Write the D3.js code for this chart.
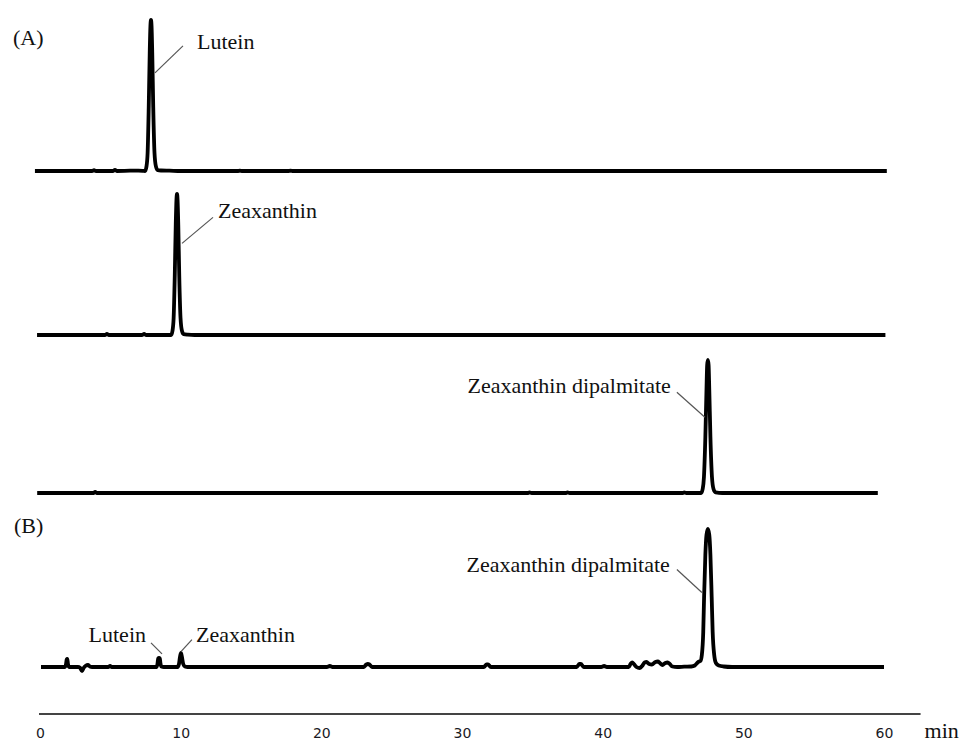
<!DOCTYPE html>
<html>
<head>
<meta charset="utf-8">
<script src="https://cdn.jsdelivr.net/npm/d3@7"></script>
<style>
  html, body { margin: 0; padding: 0; background: #fff; }
  svg { display: block; }
  .lbl { font-family: "Liberation Serif", "Times New Roman", serif; font-size: 22px; fill: #111; }
  .tick text { font-family: "DejaVu Sans", Verdana, sans-serif; font-size: 14px; fill: #1a1a24; }
</style>
</head>
<body>
<svg id="chart" width="960" height="742"></svg>
<script>
// Retention time (min) vs. detector signal (mAU) for each chromatogram.
const luteinStandard = [
  [-0.36, 0], [3.70, 0], [3.84, 0.8], [3.98, 0], [5.20, 0], [5.33, 1.2], [5.46, 0],
  [6.40, 0.3], [7.00, 0.4], [7.30, 0.2], [7.47, 0], [7.57, 4.6], [7.65, 18], [7.73, 64],
  [7.80, 118], [7.85, 145], [7.89, 151], [7.93, 145], [7.98, 118], [8.05, 64], [8.14, 18],
  [8.24, 4.6], [8.37, 0.8], [8.60, 0.5], [9.20, 0.3], [10.0, 0], [14.1, 0], [14.2, 0.4],
  [14.4, 0], [17.7, 0], [17.8, 0.4], [18.0, 0], [60.2, 0]
];
const zeaxanthinStandard = [
  [-0.21, 0], [4.62, 0], [4.76, 1], [4.90, 0], [7.25, 0], [7.40, 1], [7.55, 0], [9.32, 0],
  [9.42, 4.3], [9.50, 17], [9.58, 59], [9.65, 110], [9.70, 135], [9.74, 141], [9.78, 135],
  [9.83, 110], [9.90, 59], [9.99, 17], [10.09, 4.3], [10.22, 0.8], [10.5, 0.3], [11.0, 0],
  [60.1, 0]
];
const dipalmitateStandard = [
  [-0.2, 0], [3.80, 0], [3.92, 1], [4.05, 0], [34.7, 0], [34.8, 0.6], [34.95, 0], [37.4, 0],
  [37.5, 0.6], [37.65, 0], [45.7, 0], [45.8, 0.6], [45.95, 0], [47.0, 0], [47.11, 4],
  [47.20, 16], [47.30, 56], [47.38, 103], [47.43, 128], [47.48, 133], [47.53, 128],
  [47.58, 103], [47.66, 56], [47.77, 16], [47.88, 4], [48.03, 0.6], [48.5, 0], [59.56, 0]
];
const extractSample = [
  [0.07, 0], [1.78, 0], [1.85, 3], [1.90, 7.5], [1.94, 8], [1.99, 3], [2.06, 0], [2.70, 0],
  [2.85, -0.8], [2.99, -4], [3.10, -1], [3.25, 1.2], [3.41, 2], [3.55, 0.5], [3.70, 0],
  [4.85, 0], [4.98, 1], [5.10, 0], [8.30, 0], [8.36, 4], [8.40, 8.5], [8.46, 9], [8.52, 8.5],
  [8.56, 4], [8.62, 0.5], [8.80, 0], [9.78, 0], [9.88, 3], [9.95, 10], [10.02, 14],
  [10.09, 10], [10.18, 3], [10.30, 0.5], [10.5, 0], [20.4, 0], [20.6, 1], [20.8, 0],
  [23.0, 0], [23.2, 2.5], [23.3, 3], [23.42, 2.5], [23.6, 0], [31.55, 0], [31.75, 2.5],
  [31.85, 2.5], [32.05, 0], [38.15, 0], [38.35, 3], [38.45, 3], [38.65, 0], [39.9, 0],
  [40.1, 1], [40.3, 0], [41.85, 0], [42.0, 3.5], [42.1, 4.5], [42.22, 3], [42.4, 0],
  [42.62, -1], [42.8, 1], [42.98, 4.5], [43.12, 5], [43.3, 3], [43.5, 2.5], [43.75, 5],
  [43.92, 5.5], [44.07, 4], [44.25, 2], [44.45, 4], [44.62, 4.5], [44.77, 3], [44.95, 0.5],
  [45.3, 0], [45.8, 0.3], [46.3, 0.5], [46.55, 1.5], [46.75, 4.5], [46.85, 5.5], [46.95, 6],
  [47.05, 12], [47.15, 35], [47.21, 70], [47.30, 112], [47.38, 132], [47.48, 138],
  [47.58, 132], [47.66, 112], [47.75, 70], [47.82, 35], [47.93, 12], [48.05, 4],
  [48.25, 1.5], [48.6, 0.5], [49.2, 0], [60.0, 0]
];

// Axis ticks (min)
const timeTicks = [0, 10, 20, 30, 40, 50, 60];
const axisUnit = "min";

// Peak labels and panel letters
const peakNames = ["Lutein", "Zeaxanthin", "Zeaxanthin dipalmitate"];
const panelLetters = ["(A)", "(B)"];

// ---------- drawing ----------
const svg = d3.select("#chart");
const x = d3.scaleLinear().domain([0, 60]).range([40, 884]);

const traces = [luteinStandard, zeaxanthinStandard, dipalmitateStandard, extractSample];
const baselines = [171, 335, 493, 667];
const yScales = baselines.map(b => d3.scaleLinear().domain([0, 160]).range([b, b - 160]));

traces.forEach((data, i) => {
  const y = yScales[i];
  const line = d3.line().x(d => x(d[0])).y(d => y(d[1])).curve(d3.curveMonotoneX);
  svg.append("path")
    .datum(data)
    .attr("d", line)
    .attr("fill", "none")
    .attr("stroke", "#000")
    .attr("stroke-width", 3.8)
    .attr("stroke-linejoin", "round")
    .attr("stroke-linecap", "butt");
});

// apex point of a trace near time t
function apex(data, t) {
  return data.reduce((a, d) => (Math.abs(d[0] - t) < 0.2 && d[1] > a[1] ? d : a), [t, 0]);
}

// leader line from a point on the peak to its label
function annotate(ti, t, name, frac, dxPeak, dxLbl, dyLbl, anchor, textDx, textDy) {
  const data = traces[ti], y = yScales[ti];
  const pk = apex(data, t);
  const px = x(pk[0]) + dxPeak, py = y(pk[1] * frac);
  const qx = px + dxLbl, qy = py + dyLbl;
  svg.append("line")
    .attr("x1", px).attr("y1", py).attr("x2", qx).attr("y2", qy)
    .attr("stroke", "#555").attr("stroke-width", 1.2);
  svg.append("text").attr("class", "lbl")
    .attr("x", qx + textDx).attr("y", qy + textDy)
    .attr("text-anchor", anchor)
    .text(name);
}

annotate(0, 7.89, peakNames[0], 0.65, 4, 28, -27, "start", 14, 3);
annotate(1, 9.74, peakNames[1], 0.65, 5, 31, -26, "start", 5, 1);
annotate(2, 47.48, peakNames[2], 0.57, -3, -28, -25, "end", -6, 1);
annotate(3, 47.48, peakNames[2], 0.54, -6, -25, -23, "end", -7, 3);
annotate(3, 8.46, peakNames[0], 1.45, 3, -11, -11, "end", -5, -1);
annotate(3, 10.02, peakNames[1], 1.1, 0, 11, -12, "start", 4, 2);

svg.append("text").attr("class", "lbl").attr("x", 13).attr("y", 45).text(panelLetters[0]);
svg.append("text").attr("class", "lbl").attr("x", 14).attr("y", 533).text(panelLetters[1]);

// time axis
const axisG = svg.append("g")
  .attr("transform", "translate(0,714)")
  .call(d3.axisBottom(x).tickValues(timeTicks).tickSize(0).tickPadding(14).tickFormat(d3.format("d")));
axisG.select(".domain")
  .attr("d", `M${x(0) - 1},0H${x(62.6)}`)
  .attr("stroke", "#444")
  .attr("stroke-width", 2);

svg.append("text").attr("class", "lbl")
  .attr("x", x(62.6) + 4).attr("y", 738)
  .text(axisUnit);
</script>
</body>
</html>
